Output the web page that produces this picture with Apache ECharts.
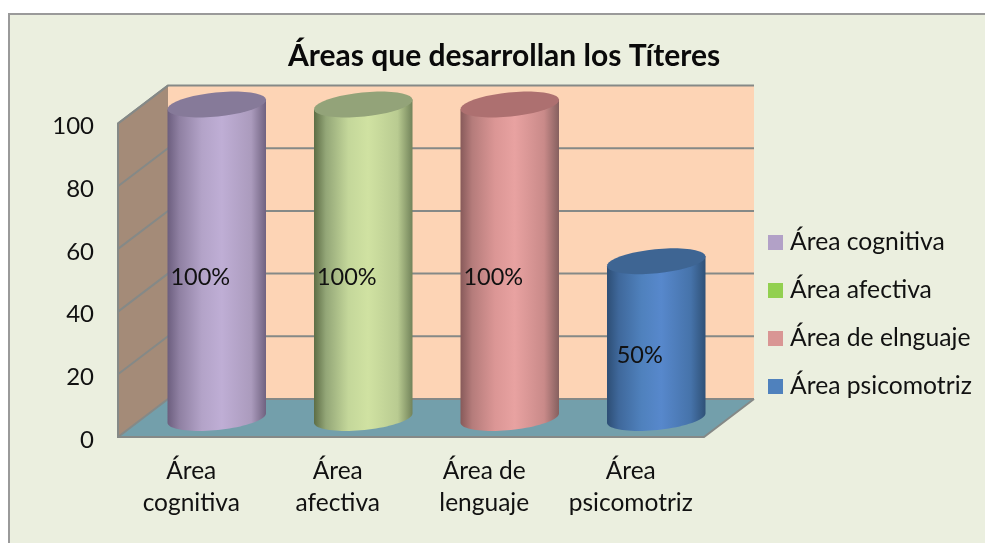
<!DOCTYPE html>
<html>
<head>
<meta charset="utf-8">
<title>Áreas que desarrollan los Títeres</title>
<script src="https://cdn.jsdelivr.net/npm/echarts@6/dist/echarts.min.js"></script>
<style>
  html, body { margin: 0; padding: 0; background: #fff; }
  #chart { width: 985px; height: 543px; }
</style>
</head>
<body>
<div id="chart"></div>
<script>
  "use strict";
  var categories = ['Área\ncognitiva', 'Área\nafectiva', 'Área de\nlenguaje', 'Área\npsicomotriz'];
  var legendNames = ['Área cognitiva', 'Área afectiva', 'Área de elnguaje', 'Área psicomotriz'];
  var values = [100, 100, 100, 50];
  var yTicks = [0, 20, 40, 60, 80, 100];

  var FONT = 'Lato, "Noto Sans", sans-serif';
  var DEPTH_X = 50, DEPTH_Y = -38;
  var RX = 49.5, RY = 12, TILT = -0.1;
  var legendColors = ['#B2A1C7', '#92D050', '#D99694', '#4F81BD'];
  var bodyStops = [
    ['#6c5e7e', '#8f80a2', '#b3a3c8', '#bfaed5', '#ab9bbd', '#706280'],
    ['#5d6d45', '#93a677', '#c4d79a', '#d0e2a2', '#b9cb91', '#72835a'],
    ['#875a5a', '#b57c7b', '#db9695', '#e8a2a1', '#c98a89', '#85605f'],
    ['#2d4e75', '#3f689b', '#4f81bd', '#5788cc', '#4673aa', '#2f5177']
  ];
  var topColors = ['#867a99', '#93a379', '#ad7070', '#3e6593'];

  function ellipsePoints(cx, cy, from, to) {
    var pts = [], n = 40;
    for (var k = 0; k <= n; k++) {
      var t = from + (to - from) * k / n;
      var x = RX * Math.cos(t), y = RY * Math.sin(t);
      pts.push([cx + x * Math.cos(TILT) - y * Math.sin(TILT), cy + x * Math.sin(TILT) + y * Math.cos(TILT)]);
    }
    return pts;
  }

  function renderWalls(params, api) {
    var g = params.coordSys;
    var left = g.x, right = g.x + g.width, bottom = g.y + g.height, top = g.y;
    var children = [];
    var line = {stroke: '#858987', lineWidth: 2};
    // back wall, side wall, floor
    children.push({type: 'polygon', shape: {points: [[left + DEPTH_X, top + DEPTH_Y], [right + DEPTH_X, top + DEPTH_Y], [right + DEPTH_X, bottom + DEPTH_Y], [left + DEPTH_X, bottom + DEPTH_Y]]}, style: {fill: '#fdd4b5'}});
    children.push({type: 'polygon', shape: {points: [[left, top], [left + DEPTH_X, top + DEPTH_Y], [left + DEPTH_X, bottom + DEPTH_Y], [left, bottom]]}, style: {fill: '#a48b78'}});
    children.push({type: 'polygon', shape: {points: [[left, bottom], [right, bottom], [right + DEPTH_X, bottom + DEPTH_Y], [left + DEPTH_X, bottom + DEPTH_Y]]}, style: {fill: '#739fab'}});
    yTicks.forEach(function (t) {
      var y = api.coord([0, t])[1];
      children.push({type: 'polyline', shape: {points: [[left, y], [left + DEPTH_X, y + DEPTH_Y], [right + DEPTH_X, y + DEPTH_Y]]}, style: {fill: null, stroke: line.stroke, lineWidth: line.lineWidth}});
    });
    children.push({type: 'polyline', shape: {points: [[left + DEPTH_X, top + DEPTH_Y], [left, top], [left, bottom], [right, bottom], [right + DEPTH_X, bottom + DEPTH_Y]]}, style: {fill: null, stroke: line.stroke, lineWidth: line.lineWidth}});
    return {type: 'group', children: children};
  }

  function renderCylinder(params, api) {
    var i = api.value(0), v = api.value(1);
    var s = params.seriesIndex - 1;
    var base = api.coord([i, 0]), head = api.coord([i, v]), mid = api.coord([i, v / 2]);
    var cx = base[0] + DEPTH_X / 2 + 0.5;
    var yBase = base[1] + DEPTH_Y / 2, yHead = head[1] + DEPTH_Y / 2;
    var stops = bodyStops[s];
    var offsets = [0, 0.12, 0.35, 0.55, 0.85, 1];
    var body = ellipsePoints(cx, yHead, Math.PI, Math.PI).concat(ellipsePoints(cx, yBase, Math.PI, 0)).concat(ellipsePoints(cx, yHead, 0, 0));
    return {
      type: 'group',
      children: [
        {
          type: 'polygon',
          shape: {points: body},
          style: {
            fill: {
              type: 'linear', x: 0, y: 0, x2: 1, y2: 0,
              colorStops: stops.map(function (c, k) { return {offset: offsets[k], color: c}; })
            }
          }
        },
        {type: 'polygon', shape: {points: ellipsePoints(cx, yHead, 0, Math.PI * 2)}, style: {fill: topColors[s]}},
        {
          type: 'text',
          style: {text: v + '%', x: mid[0] + 9, y: mid[1] - 3, fill: '#111', font: '23.5px ' + FONT, align: 'center', verticalAlign: 'middle'}
        }
      ]
    };
  }

  var series = [{
    name: 'walls',
    type: 'custom',
    silent: true,
    z: 1,
    renderItem: renderWalls,
    encode: {x: 0, y: 1},
    data: [[0, 0]]
  }];
  legendNames.forEach(function (name, i) {
    series.push({
      name: name,
      type: 'custom',
      silent: true,
      z: 2,
      renderItem: renderCylinder,
      itemStyle: {color: legendColors[i]},
      encode: {x: 0, y: 1},
      data: [[i, values[i]]]
    });
  });

  var option = {
    animation: false,
    backgroundColor: '#fff',
    graphic: [{
      type: 'rect',
      z: -1,
      silent: true,
      shape: {x: 9, y: 14, width: 1100, height: 700},
      style: {fill: '#ebefdf', stroke: '#9a9a9a', lineWidth: 2}
    }],
    title: {
      text: 'Áreas que desarrollan los Títeres',
      left: 288,
      top: 41,
      padding: 0,
      textStyle: {fontFamily: FONT, fontSize: 30, fontWeight: 'bold', color: '#0a0a0a'}
    },
    legend: {
      data: legendNames,
      orient: 'vertical',
      left: 768,
      top: 230,
      padding: 0,
      icon: 'rect',
      itemWidth: 15,
      itemHeight: 15,
      itemGap: 23,
      selectedMode: false,
      textStyle: {fontFamily: FONT, fontSize: 24.7, lineHeight: 25, color: '#111', padding: [0, 0, 0, 2]}
    },
    grid: {left: 118, right: 281, top: 123.5, bottom: 106},
    xAxis: {
      type: 'category',
      data: categories,
      axisLine: {show: false},
      axisTick: {show: false},
      axisLabel: {interval: 0, margin: 18, fontFamily: FONT, fontSize: 24.5, lineHeight: 32, color: '#111'}
    },
    yAxis: {
      type: 'value',
      min: 0,
      max: 100,
      interval: 20,
      axisLine: {show: false},
      axisTick: {show: false},
      splitLine: {show: false},
      axisLabel: {margin: 24, verticalAlign: 'top', lineHeight: 6, fontFamily: FONT, fontSize: 24, color: '#111'}
    },
    series: series
  };

  var chart = echarts.init(document.getElementById('chart'));
  chart.setOption(option);
</script>
</body>
</html>
